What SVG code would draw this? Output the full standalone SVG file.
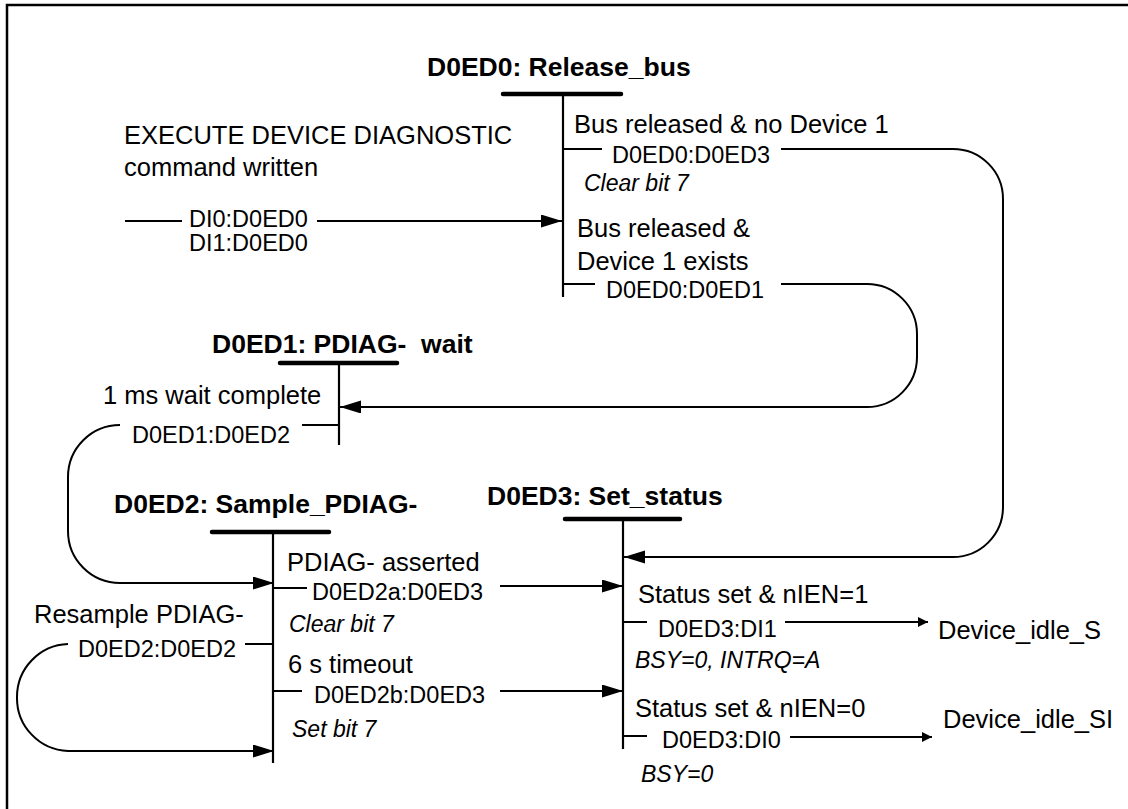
<svg xmlns="http://www.w3.org/2000/svg" width="1128" height="809" viewBox="0 0 1128 809">
<style>
text{font-family:"Liberation Sans",Arial,sans-serif;fill:#000;white-space:pre}
.t{font-size:26.5px;font-weight:bold}
.m{font-size:25.5px}
.id{font-size:23.5px}
.i{font-size:23px;font-style:italic}
.bar{stroke:#000;stroke-width:4.5;stroke-linecap:round;fill:none}
.v{stroke:#000;stroke-width:2.2;fill:none}
.c{stroke:#000;stroke-width:2;fill:none}
.a{marker-end:url(#ah)}
.s{marker-end:url(#sh)}
</style>
<defs>
<marker id="ah" markerUnits="userSpaceOnUse" markerWidth="22" markerHeight="14" refX="21" refY="6.5" orient="auto"><path d="M0,0 L21,6.5 L0,13 z" fill="#000"/></marker>
<marker id="sh" markerUnits="userSpaceOnUse" markerWidth="12" markerHeight="11" refX="10" refY="5" orient="auto"><path d="M0,0 L10,5 L0,10 z" fill="#000"/></marker>
</defs>
<rect width="1128" height="809" fill="#fff"/>
<path d="M7,809 V5 H1128" stroke="#000" stroke-width="2.5" fill="none"/>

<g id="D0ED0">
<text class="t" x="427" y="76">D0ED0: Release_bus</text>
<line class="bar" x1="503" y1="94" x2="621" y2="94"/>
<line class="v" x1="563" y1="94" x2="563" y2="297"/>
<text class="m" x="574" y="133">Bus released &amp; no Device 1</text>
<text class="id" x="612" y="163">D0ED0:D0ED3</text>
<text class="i" x="584" y="191">Clear bit 7</text>
<text class="m" x="577" y="237">Bus released &amp;</text>
<text class="m" x="577" y="270">Device 1 exists</text>
<text class="id" x="606" y="298">D0ED0:D0ED1</text>
</g>

<g id="entry">
<text class="m" x="124" y="144">EXECUTE DEVICE DIAGNOSTIC</text>
<text class="m" x="124" y="176">command written</text>
<text class="id" x="189" y="227">DI0:D0ED0</text>
<text class="id" x="189" y="251">DI1:D0ED0</text>
</g>

<g id="D0ED1">
<text class="t" x="212" y="353">D0ED1: PDIAG-  wait</text>
<line class="bar" x1="280" y1="363" x2="397" y2="363"/>
<line class="v" x1="339" y1="363" x2="339" y2="445"/>
<text class="m" x="103" y="404">1 ms wait complete</text>
<text class="id" x="132" y="443">D0ED1:D0ED2</text>
</g>

<g id="D0ED2">
<text class="t" x="114" y="513">D0ED2: Sample_PDIAG-</text>
<line class="bar" x1="212" y1="532" x2="329" y2="532"/>
<line class="v" x1="273" y1="532" x2="273" y2="763"/>
<text class="m" x="287" y="571">PDIAG- asserted</text>
<text class="id" x="312" y="600">D0ED2a:D0ED3</text>
<text class="i" x="289" y="632">Clear bit 7</text>
<text class="m" x="34" y="623">Resample PDIAG-</text>
<text class="id" x="78" y="657">D0ED2:D0ED2</text>
<text class="m" x="288" y="673">6 s timeout</text>
<text class="id" x="314" y="703">D0ED2b:D0ED3</text>
<text class="i" x="292" y="737">Set bit 7</text>
</g>

<g id="D0ED3">
<text class="t" x="487" y="505">D0ED3: Set_status</text>
<line class="bar" x1="565" y1="519" x2="680" y2="519"/>
<line class="v" x1="623" y1="519" x2="623" y2="749"/>
<text class="m" x="638" y="603">Status set &amp; nIEN=1</text>
<text class="id" x="658" y="637">D0ED3:DI1</text>
<text class="i" x="635" y="668">BSY=0, INTRQ=A</text>
<text class="m" x="635" y="717">Status set &amp; nIEN=0</text>
<text class="id" x="662" y="748">D0ED3:DI0</text>
<text class="i" x="641" y="782">BSY=0</text>
</g>

<g id="Device_idle_S">
<text class="m" x="938" y="639">Device_idle_S</text>
</g>
<g id="Device_idle_SI">
<text class="m" x="943" y="728">Device_idle_SI</text>
</g>

<g id="connectors">
<line class="c" x1="125" y1="221" x2="182" y2="221"/>
<line class="c a" x1="317" y1="221" x2="562" y2="221"/>
<line class="c" x1="563" y1="149" x2="602" y2="149"/>
<path class="c a" d="M781,149 H953 A50,50 0 0 1 1003,199 V507 A50,50 0 0 1 953,557 H624"/>
<line class="c" x1="563" y1="284" x2="595" y2="284"/>
<path class="c a" d="M781,284 H867 A50,50 0 0 1 917,334 V357 A50,50 0 0 1 867,407 H340"/>
<line class="c" x1="302" y1="425" x2="339" y2="425"/>
<path class="c a" d="M120,425 A52,52 0 0 0 68,477 V531 A52,52 0 0 0 120,583 H274"/>
<line class="c" x1="273" y1="588" x2="307" y2="588"/>
<line class="c a" x1="500" y1="586" x2="623" y2="586"/>
<line class="c" x1="245" y1="644" x2="273" y2="644"/>
<path class="c a" d="M68,644 A53,53 0 0 0 17,697 A53,53 0 0 0 68,751 H274"/>
<line class="c" x1="273" y1="691" x2="302" y2="691"/>
<line class="c a" x1="500" y1="691" x2="623" y2="691"/>
<line class="c" x1="623" y1="622" x2="647" y2="622"/>
<line class="c s" x1="785" y1="622" x2="928" y2="622"/>
<line class="c" x1="623" y1="736" x2="647" y2="736"/>
<line class="c s" x1="790" y1="737" x2="932" y2="737"/>
</g>
</svg>
